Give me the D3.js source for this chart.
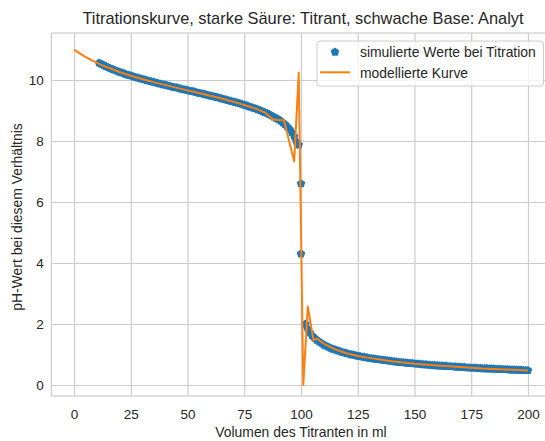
<!DOCTYPE html>
<html>
<head>
<meta charset="utf-8">
<script src="https://cdn.jsdelivr.net/npm/d3@7"></script>
<style>
body { margin: 0; background: #fff; }
text { font-family: "Liberation Sans", Arial, sans-serif; fill: #262626; }
</style>
</head>
<body>
<svg id="chart" width="545" height="441"></svg>
<script>
// simulierte Messwerte (Volumen in ml, pH)
var simVol = [
    11,12,13,14,15,16,17,18,19,20,21,22,23,24,25,26,27,28,29,30,
    31,32,33,34,35,36,37,38,39,40,41,42,43,44,45,46,47,48,49,50,
    51,52,53,54,55,56,57,58,59,60,61,62,63,64,65,66,67,68,69,70,
    71,72,73,74,75,76,77,78,79,80,81,82,83,84,85,86,87,88,89,90,
    91,92,93,94,95,96,97,98,99,
    100,100,
    102,103,104,105,106,107,108,109,110,111,112,113,114,115,116,117,118,119,120,121,
    122,123,124,125,126,127,128,129,130,131,132,133,134,135,136,137,138,139,140,141,
    142,143,144,145,146,147,148,149,150,151,152,153,154,155,156,157,158,159,160,161,
    162,163,164,165,166,167,168,169,170,171,172,173,174,175,176,177,178,179,180,181,
    182,183,184,185,186,187,188,189,190,191,192,193,194,195,196,197,198,199,200];
var simPH = [
    10.56,10.52,10.49,10.45,10.41,10.38,10.35,10.32,10.29,10.26,10.24,10.21,10.18,10.16,10.14,10.11,10.09,10.07,10.05,10.03,
    10.01,9.99,9.97,9.95,9.93,9.91,9.89,9.87,9.85,9.84,9.82,9.80,9.78,9.76,9.75,9.73,9.71,9.69,9.68,9.66,
    9.64,9.63,9.61,9.59,9.57,9.56,9.54,9.52,9.50,9.48,9.47,9.45,9.43,9.41,9.39,9.37,9.35,9.33,9.31,9.29,
    9.27,9.25,9.23,9.21,9.18,9.16,9.13,9.11,9.08,9.06,9.03,9.00,8.97,8.94,8.91,8.87,8.83,8.79,8.75,8.71,
    8.66,8.60,8.54,8.46,8.38,8.28,8.15,7.97,7.87,
    6.6,4.3,
    2.00,1.83,1.71,1.61,1.54,1.47,1.42,1.37,1.32,1.28,1.25,1.21,1.18,1.16,1.13,1.11,1.08,1.06,1.04,1.02,
    1.00,0.99,0.97,0.95,0.94,0.92,0.91,0.90,0.88,0.87,0.86,0.85,0.84,0.83,0.82,0.81,0.80,0.79,0.78,0.77,
    0.76,0.75,0.74,0.74,0.73,0.72,0.71,0.71,0.70,0.69,0.69,0.68,0.67,0.67,0.66,0.65,0.65,0.64,0.64,0.63,
    0.63,0.62,0.62,0.61,0.61,0.60,0.60,0.59,0.59,0.58,0.58,0.57,0.57,0.56,0.56,0.56,0.55,0.55,0.54,0.54,
    0.54,0.53,0.53,0.53,0.52,0.52,0.52,0.51,0.51,0.51,0.50,0.50,0.50,0.49,0.49,0.49,0.48,0.48,0.48];

// modellierte Kurve
var modelVol = [0,2.5,5,7.5,10,12.5,15,20,25,30,35,40,45,50,55,60,65,70,75,80,84,87.5,90,92.5,97,99,101,103,105.5,107,110,115,120,125,130,140,150,160,170,180,190,200];
var modelPH = [11.00,10.87,10.76,10.66,10.57,10.48,10.41,10.26,10.14,10.03,9.93,9.84,9.75,9.66,9.57,9.48,9.39,9.29,9.18,9.06,8.94,8.71,8.69,8.68,7.33,10.24,0.00,2.57,1.47,1.52,1.36,1.17,1.04,0.95,0.89,0.78,0.70,0.64,0.59,0.54,0.51,0.48];

var xTicks = [0,25,50,75,100,125,150,175,200];
var yTicks = [0,2,4,6,8,10];

var blue = "#1f77b4", orange = "#ff7f0e", gridColor = "#cccccc";
var plotL = 51.35, plotR = 550.65, plotT = 33, plotB = 396;

var svg = d3.select("#chart");
svg.append("rect").attr("width", 545).attr("height", 441).attr("fill", "#fff");

var x = d3.scaleLinear().domain([-10, 210]).range([plotL, plotR]);
var y = d3.scaleLinear().domain([-0.36, 11.54]).range([plotB, plotT]);

// Gitter + Beschriftung
var xAxis = svg.append("g")
    .attr("transform", "translate(0," + plotB + ")")
    .call(d3.axisBottom(x).tickValues(xTicks).tickSize(-(plotB - plotT)).tickPadding(13));
var yAxis = svg.append("g")
    .attr("transform", "translate(" + plotL + ",0)")
    .call(d3.axisLeft(y).tickValues(yTicks).tickSize(-(plotR - plotL)).tickPadding(7.5));
[xAxis, yAxis].forEach(function(g){
    g.select(".domain").remove();
    g.selectAll(".tick line").attr("stroke", gridColor).attr("stroke-width", 1.2);
    g.selectAll(".tick text").style("font-size", "13.5px").attr("fill", "#262626")
        .style("font-family", "'Liberation Sans', Arial, sans-serif");
});

svg.append("rect")
    .attr("x", plotL).attr("y", plotT)
    .attr("width", plotR - plotL).attr("height", plotB - plotT)
    .attr("fill", "none").attr("stroke", gridColor).attr("stroke-width", 1.2);

svg.append("clipPath").attr("id", "plotclip")
    .append("rect").attr("x", plotL).attr("y", plotT)
    .attr("width", plotR - plotL).attr("height", plotB - plotT);

var plot = svg.append("g").attr("clip-path", "url(#plotclip)");

function pentagon(r) {
    var pts = d3.range(5).map(function(k){
        var a = -Math.PI / 2 + k * 2 * Math.PI / 5;
        return [r * Math.cos(a), r * Math.sin(a)];
    });
    return "M" + pts.join("L") + "Z";
}

var simData = d3.zip(simVol, simPH);
plot.selectAll("path.sim")
    .data(simData)
    .enter().append("path")
    .attr("class", "sim")
    .attr("d", pentagon(4.5))
    .attr("transform", function(d){ return "translate(" + x(d[0]) + "," + y(d[1]) + ")"; })
    .attr("fill", blue);

var line = d3.line()
    .x(function(d){ return x(d[0]); })
    .y(function(d){ return y(d[1]); });

plot.append("path")
    .datum(d3.zip(modelVol, modelPH))
    .attr("d", line)
    .attr("fill", "none")
    .attr("stroke", orange)
    .attr("stroke-width", 2)
    .attr("stroke-linejoin", "round");

// Titel und Achsenbeschriftung
svg.append("text")
    .attr("x", 303).attr("y", 23.5)
    .attr("text-anchor", "middle")
    .style("font-size", "16.4px")
    .text("Titrationskurve, starke Säure: Titrant, schwache Base: Analyt");

svg.append("text")
    .attr("x", 301).attr("y", 437)
    .attr("text-anchor", "middle")
    .style("font-size", "13.9px")
    .text("Volumen des Titranten in ml");

svg.append("text")
    .attr("transform", "translate(22,217) rotate(-90)")
    .attr("text-anchor", "middle")
    .style("font-size", "13.9px")
    .text("pH-Wert bei diesem Verhältnis");

// Legende
var legend = svg.append("g");
legend.append("rect")
    .attr("x", 317).attr("y", 41)
    .attr("width", 226.5).attr("height", 45)
    .attr("rx", 3)
    .attr("fill", "#fff").attr("fill-opacity", 0.8)
    .attr("stroke", gridColor).attr("stroke-width", 1);
legend.append("path")
    .attr("d", pentagon(4.5))
    .attr("transform", "translate(335,52)")
    .attr("fill", blue);
legend.append("line")
    .attr("x1", 320).attr("x2", 350).attr("y1", 72.3).attr("y2", 72.3)
    .attr("stroke", orange).attr("stroke-width", 2);
legend.append("text")
    .attr("x", 360).attr("y", 57)
    .style("font-size", "13.9px")
    .text("simulierte Werte bei Titration");
legend.append("text")
    .attr("x", 360).attr("y", 77.5)
    .style("font-size", "13.9px")
    .text("modellierte Kurve");
</script>
</body>
</html>
